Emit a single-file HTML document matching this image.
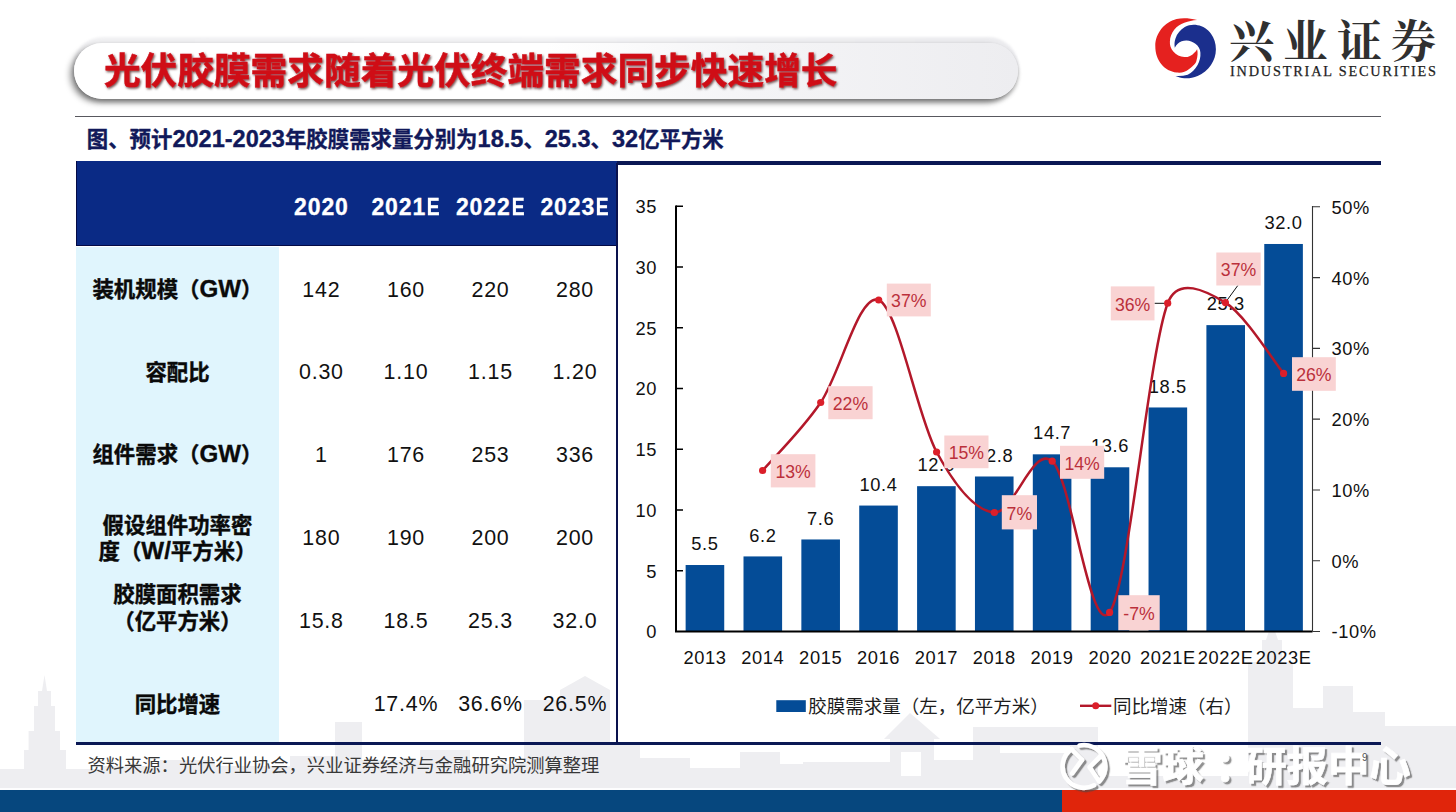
<!DOCTYPE html>
<html lang="zh"><head><meta charset="utf-8"><title>光伏胶膜需求随着光伏终端需求同步快速增长</title><style>
html,body{margin:0;padding:0;background:#fff}
body{width:1456px;height:812px;overflow:hidden;position:relative;font-family:"Liberation Sans",sans-serif}
.abs{position:absolute}
.pillrim{position:absolute;left:72px;top:37px;width:947px;height:62px;border-radius:31px;
 background:linear-gradient(90deg,#f1f1f3 0%,#f4f4f6 50%,#ececef 100%);filter:blur(.8px)}
.pill{position:absolute;left:74px;top:43px;width:944px;height:55.7px;border-radius:28px;
 background:linear-gradient(90deg,#fff 0%,#fff 50%,#f4f4f6 72%,#ededf0 100%);
 box-shadow:-4px 3.5px 6px rgba(0,0,0,.40),0 3px 4px rgba(0,0,0,.26)}
.th{position:absolute;width:100px;height:30px;line-height:30px;text-align:center;color:#fff;font-weight:bold;font-size:23px;letter-spacing:.9px;text-indent:.9px;-webkit-text-stroke:.3px #fff}
.e{display:inline-block;transform:scaleX(.84);transform-origin:0 50%;margin-right:-2.6px}
.td{position:absolute;width:100px;height:30px;line-height:30px;text-align:center;color:#111;font-size:21.4px;letter-spacing:.8px;text-indent:.8px}
svg text{font-family:"Liberation Sans","Noto Sans CJK SC",sans-serif}
svg text.serif{font-family:"Liberation Serif","Noto Serif CJK SC",serif}
</style></head><body>
<svg class="abs" style="left:0;top:0" width="1456" height="812" fill="#eeeef1"><rect x="0" y="769" width="24" height="20"/><rect x="66" y="769" width="34" height="20"/><rect x="100" y="766" width="60" height="23"/><rect x="160" y="760" width="55" height="29"/><rect x="215" y="766" width="75" height="23"/><rect x="290" y="756" width="45" height="33"/><rect x="335" y="722" width="27" height="67"/><rect x="362" y="760" width="58" height="29"/><rect x="420" y="750" width="50" height="39"/><rect x="470" y="764" width="54" height="25"/><rect x="524" y="700" width="36" height="89"/><rect x="560" y="690" width="50" height="99"/><rect x="610" y="744" width="30" height="45"/><rect x="640" y="758" width="50" height="31"/><rect x="690" y="768" width="50" height="21"/><rect x="740" y="752" width="40" height="37"/><rect x="780" y="764" width="23" height="25"/><rect x="803" y="762" width="87" height="27"/><rect x="890" y="739" width="44" height="50"/><rect x="934" y="760" width="39" height="29"/><rect x="973" y="727" width="125" height="62"/><rect x="1098" y="776" width="150" height="13"/><rect x="1248" y="662" width="45" height="127"/><rect x="1262" y="640" width="20" height="149"/><rect x="1293" y="708" width="30" height="81"/><rect x="1323" y="686" width="30" height="103"/><rect x="1353" y="712" width="32" height="77"/><rect x="1385" y="726" width="71" height="63"/><polygon points="24,789 24,750 28.6,750 28.6,731 34,731 34,706 38,706 38,691 42,691 44.5,675 47,691 51,691 51,706 55,706 55,731 60,731 60,750 66,750 66,789"/><polygon points="560,690 585,676 610,690"/><polygon points="884,739 910,713 940,739"/><polygon points="1266,640 1272,622 1278,640"/><g fill="#fff"><rect x="901" y="752" width="20" height="24"/><rect x="1000" y="746" width="70" height="7"/><rect x="1120" y="752" width="100" height="24"/></g></svg>
<div class="pillrim"></div><div class="pill"></div>
<div class="abs" style="left:75px;top:115.7px;width:1306px;height:1.2px;background:#58585e"></div>
<div class="abs" style="left:76px;top:161.2px;width:1305px;height:3.6px;background:#0a1854"></div>
<div class="abs" style="left:76px;top:741.5px;width:1305px;height:3px;background:#0a1854"></div>
<div class="abs" style="left:76px;top:161.2px;width:541px;height:84.6px;background:#0a2a85;box-sizing:border-box;border-left:1.2px solid #040a45;border-bottom:1.2px solid #040a45"></div>
<div class="abs" style="left:76px;top:247.2px;width:202.5px;height:494.5px;background:#e0f5fd"></div>
<div class="abs" style="left:616px;top:163px;width:2px;height:580px;background:#0a124e"></div>
<div class="th" style="left:271px;top:192px">2020</div>
<div class="th" style="left:355.6px;top:192px">2021<span class="e">E</span></div>
<div class="th" style="left:440.1px;top:192px">2022<span class="e">E</span></div>
<div class="th" style="left:524.6px;top:192px">2023<span class="e">E</span></div>
<div class="td" style="left:271px;top:275.2px">142</div>
<div class="td" style="left:355.6px;top:275.2px">160</div>
<div class="td" style="left:440.1px;top:275.2px">220</div>
<div class="td" style="left:524.6px;top:275.2px">280</div>
<div class="td" style="left:271px;top:356.8px">0.30</div>
<div class="td" style="left:355.6px;top:356.8px">1.10</div>
<div class="td" style="left:440.1px;top:356.8px">1.15</div>
<div class="td" style="left:524.6px;top:356.8px">1.20</div>
<div class="td" style="left:271px;top:439.9px">1</div>
<div class="td" style="left:355.6px;top:439.9px">176</div>
<div class="td" style="left:440.1px;top:439.9px">253</div>
<div class="td" style="left:524.6px;top:439.9px">336</div>
<div class="td" style="left:271px;top:522.9px">180</div>
<div class="td" style="left:355.6px;top:522.9px">190</div>
<div class="td" style="left:440.1px;top:522.9px">200</div>
<div class="td" style="left:524.6px;top:522.9px">200</div>
<div class="td" style="left:271px;top:606px">15.8</div>
<div class="td" style="left:355.6px;top:606px">18.5</div>
<div class="td" style="left:440.1px;top:606px">25.3</div>
<div class="td" style="left:524.6px;top:606px">32.0</div>
<div class="td" style="left:355.6px;top:688.9px">17.4%</div>
<div class="td" style="left:440.1px;top:688.9px">36.6%</div>
<div class="td" style="left:524.6px;top:688.9px">26.5%</div>
<div class="abs" style="left:0;top:788.2px;width:1456px;height:2px;background:#fdfdfe"></div>
<div class="abs" style="left:0;top:790px;width:1062px;height:22px;background:#06477e"></div>
<div class="abs" style="left:1062px;top:790px;width:394px;height:22px;background:#e0250b"></div>
<svg class="abs" style="left:0;top:0" width="1456" height="812" viewBox="0 0 1456 812"><defs><filter id="tsh" x="-2%" y="-20%" width="104%" height="150%"><feDropShadow dx="1.1" dy="1.4" stdDeviation="0.9" flood-color="#300" flood-opacity="0.7"/></filter><filter id="wsh" x="-5%" y="-20%" width="110%" height="150%"><feDropShadow dx="2.2" dy="2.2" stdDeviation="0.7" flood-color="#4a4a4a" flood-opacity="0.6"/></filter></defs>
<g filter="url(#tsh)"><g fill="#cf1019" font-size="36.68" font-weight="bold"><text x="103.9" y="84.16" font-size="36.68" stroke="#cf1019" stroke-width="0.5" textLength="733.6" lengthAdjust="spacing">光伏胶膜需求随着光伏终端需求同步快速增长</text></g></g>
<g transform="translate(1185.6 48.0)"><path d="M11.5,-28 C4,-30 -3,-30.2 -9,-29.1 C-21,-26 -30.3,-15 -30.3,-2 C-30.3,13 -21,23 -9,24.6 C-4,25.2 0,24 3.2,21.3 C8,17.5 10.5,15 10.9,12.4 C12.2,8 12.3,4.5 11.5,1.3 C10.8,2.8 9.8,3.9 8.7,4.7 C6,7.8 2.5,9.3 -1.3,9.1 C-5.5,9 -9.5,7 -12.3,3.6 C-14.8,0.8 -16,-2.8 -15.7,-6.4 C-15.6,-11 -14,-15.2 -11.2,-18.6 C-8.6,-21.6 -5.3,-23.9 -1.3,-25.3 C3,-26.9 7,-27.6 11.5,-28 Z" fill="#e5211f"/><path d="M-10.8,-0.3 C-11.3,-3.5 -11.2,-6.5 -10.2,-9.3 C-8.6,-14.2 -5.2,-18.2 -0.8,-20.9 C3,-23 7.4,-23.7 12,-22.8 C17.3,-22.3 22,-19 25.4,-14.2 C28.6,-9.7 30.3,-4.4 30.3,1.3 C30.3,7 28.6,12.3 25.4,16.9 C22,21.8 17.5,25.6 12,28 C7.7,29.8 3.2,30.5 -1.3,30.2 C-4.3,30 -7.3,29.2 -10.1,28 C-5.8,28.3 -1.7,27.9 2.1,26.8 C6.2,24.5 9.6,21.1 12,16.9 C14.1,13.2 15.1,9 14.8,4.7 C14.6,1.2 12.8,-2 9.8,-4.2 C7.2,-6.2 4.2,-7.3 1,-7.5 C-2.3,-7.6 -5.4,-6.5 -7.9,-4.2 C-9,-3.1 -10,-1.8 -10.8,-0.3 Z" fill="#1b2f8d"/></g>
<g fill="#303030" font-size="45" font-weight="bold"><text x="1229" y="57.5" class="serif" font-size="45" letter-spacing="9">兴业证券</text></g>
<text x="1230" y="76" class="serif" font-size="14.3" fill="#1e1e1e" stroke="#1e1e1e" stroke-width="0.25" textLength="206" lengthAdjust="spacing">INDUSTRIAL SECURITIES</text>
<g fill="#11195a" font-size="23.54" font-weight="bold"><text x="86.8" y="146.53" font-size="21.4" stroke="#11195a" stroke-width="0.35">图、预计</text><text x="172.4" y="146.53" stroke="#11195a" stroke-width="0.35">2021-2023</text><text x="284.97" y="146.53" font-size="21.4" stroke="#11195a" stroke-width="0.35">年胶膜需求量分别为</text><text x="477.57" y="146.53" stroke="#11195a" stroke-width="0.35">18.5</text><text x="523.39" y="146.53" font-size="21.4" stroke="#11195a" stroke-width="0.35">、</text><text x="544.79" y="146.53" stroke="#11195a" stroke-width="0.35">25.3</text><text x="590.6" y="146.53" font-size="21.4" stroke="#11195a" stroke-width="0.35">、</text><text x="612" y="146.53" stroke="#11195a" stroke-width="0.35">32</text><text x="638.19" y="146.53" font-size="21.4" stroke="#11195a" stroke-width="0.35">亿平方米</text></g>
<g fill="#0a0a0a" font-size="24.18" font-weight="bold"><text x="92.48" y="296.52" font-size="21.4" stroke="#0a0a0a" stroke-width="0.4">装机规模（</text><text x="199.48" y="296.52" stroke="#0a0a0a" stroke-width="0.35">GW</text><text x="241.12" y="296.52" font-size="21.4" stroke="#0a0a0a" stroke-width="0.4">）</text></g>
<g fill="#0a0a0a" font-size="24.18" font-weight="bold"><text x="145.4" y="380.32" font-size="21.4" stroke="#0a0a0a" stroke-width="0.4">容配比</text></g>
<g fill="#0a0a0a" font-size="24.18" font-weight="bold"><text x="92.48" y="461.92" font-size="21.4" stroke="#0a0a0a" stroke-width="0.4">组件需求（</text><text x="199.48" y="461.92" stroke="#0a0a0a" stroke-width="0.35">GW</text><text x="241.12" y="461.92" font-size="21.4" stroke="#0a0a0a" stroke-width="0.4">）</text></g>
<g fill="#0a0a0a" font-size="24.18" font-weight="bold"><text x="102.6" y="533.12" font-size="21.4" stroke="#0a0a0a" stroke-width="0.4">假设组件功率密</text></g>
<g fill="#0a0a0a" font-size="24.18" font-weight="bold"><text x="98.53" y="558.92" font-size="21.4" stroke="#0a0a0a" stroke-width="0.4">度（</text><text x="141.33" y="558.92" stroke="#0a0a0a" stroke-width="0.35">W/</text><text x="170.87" y="558.92" font-size="21.4" stroke="#0a0a0a" stroke-width="0.4">平方米）</text></g>
<g fill="#0a0a0a" font-size="24.18" font-weight="bold"><text x="113.3" y="602.23" font-size="21.4" stroke="#0a0a0a" stroke-width="0.4">胶膜面积需求</text></g>
<g fill="#0a0a0a" font-size="24.18" font-weight="bold"><text x="113.3" y="628.82" font-size="21.4" stroke="#0a0a0a" stroke-width="0.4">（亿平方米）</text></g>
<g fill="#0a0a0a" font-size="24.18" font-weight="bold"><text x="134.7" y="711.82" font-size="21.4" stroke="#0a0a0a" stroke-width="0.4">同比增速</text></g>
<g fill="#383838" font-size="18.3"><text x="87.5" y="771.76" font-size="18.3">资料来源：光伏行业协会，兴业证券经济与金融研究院测算整理</text></g>
<g font-size="18.3" fill="#111" letter-spacing="0.6"><g fill="#044c97"><rect x="685.63" y="565.02" width="38.6" height="66.48"/><rect x="743.5" y="556.42" width="38.6" height="75.08"/><rect x="801.36" y="539.46" width="38.6" height="92.04"/><rect x="859.22" y="505.56" width="38.6" height="125.94"/><rect x="917.09" y="486.18" width="38.6" height="145.32"/><rect x="974.95" y="476.49" width="38.6" height="155.01"/><rect x="1032.81" y="454.33" width="38.6" height="177.17"/><rect x="1090.68" y="467.29" width="38.6" height="164.21"/><rect x="1148.54" y="407.47" width="38.6" height="224.03"/><rect x="1206.4" y="325.12" width="38.6" height="306.38"/><rect x="1264.27" y="243.98" width="38.6" height="387.52"/></g><text x="704.93" y="550.12" text-anchor="middle">5.5</text><text x="762.8" y="541.52" text-anchor="middle">6.2</text><text x="820.66" y="524.56" text-anchor="middle">7.6</text><text x="878.52" y="490.66" text-anchor="middle">10.4</text><text x="936.39" y="471.28" text-anchor="middle">12.0</text><text x="994.25" y="461.59" text-anchor="middle">12.8</text><text x="1052.11" y="439.43" text-anchor="middle">14.7</text><text x="1109.98" y="452.39" text-anchor="middle">13.6</text><text x="1167.84" y="392.57" text-anchor="middle">18.5</text><text x="1225.7" y="310.22" text-anchor="middle">25.3</text><text x="1283.57" y="229.08" text-anchor="middle">32.0</text><path d="M676,205.6 V631.5 H1312.5" stroke="#000" stroke-width="2" fill="none"/><path d="M676,570.75 h7M676,510 h7M676,449.25 h7M676,388.5 h7M676,327.75 h7M676,267 h7M676,206.25 h7" stroke="#000" stroke-width="1.6" fill="none"/><path d="M1312.5,206 V631.5 M1312.5,631.5 h7.5M1312.5,560.72 h7.5M1312.5,489.94 h7.5M1312.5,419.16 h7.5M1312.5,348.38 h7.5M1312.5,277.6 h7.5M1312.5,206.82 h7.5" stroke="#333" stroke-width="1.1" fill="none"/><text x="657" y="638.4" text-anchor="end">0</text><text x="657" y="577.65" text-anchor="end">5</text><text x="657" y="516.9" text-anchor="end">10</text><text x="657" y="456.15" text-anchor="end">15</text><text x="657" y="395.4" text-anchor="end">20</text><text x="657" y="334.65" text-anchor="end">25</text><text x="657" y="273.9" text-anchor="end">30</text><text x="657" y="213.15" text-anchor="end">35</text><text x="1331.5" y="638.4">-10%</text><text x="1331.5" y="567.62">0%</text><text x="1331.5" y="496.84">10%</text><text x="1331.5" y="426.06">20%</text><text x="1331.5" y="355.28">30%</text><text x="1331.5" y="284.5">40%</text><text x="1331.5" y="213.72">50%</text><text x="704.93" y="663.7" text-anchor="middle">2013</text><text x="762.8" y="663.7" text-anchor="middle">2014</text><text x="820.66" y="663.7" text-anchor="middle">2015</text><text x="878.52" y="663.7" text-anchor="middle">2016</text><text x="936.39" y="663.7" text-anchor="middle">2017</text><text x="994.25" y="663.7" text-anchor="middle">2018</text><text x="1052.11" y="663.7" text-anchor="middle">2019</text><text x="1109.98" y="663.7" text-anchor="middle">2020</text><text x="1167.84" y="663.7" text-anchor="middle">2021E</text><text x="1225.7" y="663.7" text-anchor="middle">2022E</text><text x="1283.57" y="663.7" text-anchor="middle">2023E</text></g><path d="M1154.5,303.3 H1165 M1237.8,285.5 L1226.5,301" stroke="#111" stroke-width="1" fill="none"/><path d="M762.6,470.5 C772.28,459.17 801.35,430.92 820.7,402.5 C840.05,374.08 859.38,291.75 878.7,300 C898.02,308.25 917.32,416.58 936.6,452 C955.88,487.42 975.13,510.97 994.4,512.5 C1013.67,514.03 1033,444.55 1052.2,461.2 C1071.4,477.85 1090.35,638.73 1109.6,612.4 C1128.85,586.07 1148.4,354.83 1167.7,303.2 C1177.8,276.17 1206.08,290.9 1225.4,302.6 C1244.72,314.3 1273.9,361.6 1283.6,373.4" stroke="#b3182a" stroke-width="2.5" fill="none" stroke-linecap="round"/><g fill="#db1f2a"><circle cx="762.6" cy="470.5" r="3.6"/><circle cx="820.7" cy="402.5" r="3.6"/><circle cx="878.7" cy="300" r="3.6"/><circle cx="936.6" cy="452" r="3.6"/><circle cx="994.4" cy="512.5" r="3.6"/><circle cx="1052.2" cy="461.2" r="3.6"/><circle cx="1109.6" cy="612.4" r="3.6"/><circle cx="1167.7" cy="303.2" r="3.6"/><circle cx="1225.4" cy="302.6" r="3.6"/><circle cx="1283.6" cy="373.4" r="3.6"/></g><g><rect x="770.8" y="454.2" width="44.6" height="33.2" fill="#f9d3d3"/><rect x="828.3" y="386.2" width="44.3" height="33" fill="#f9d3d3"/><rect x="886.8" y="283.6" width="44" height="32.8" fill="#f9d3d3"/><rect x="944.3" y="435.5" width="44.2" height="32.7" fill="#f9d3d3"/><rect x="1001.8" y="495.2" width="35.2" height="34.2" fill="#f9d3d3"/><rect x="1060" y="445.8" width="44.2" height="33" fill="#f9d3d3"/><rect x="1118.3" y="595.2" width="41.4" height="35" fill="#f9d3d3"/><rect x="1110.8" y="286.4" width="43.7" height="34" fill="#f9d3d3"/><rect x="1216.3" y="252.5" width="44.4" height="33" fill="#f9d3d3"/><rect x="1292" y="357.2" width="43.8" height="33.6" fill="#f9d3d3"/></g><g font-size="17.7" fill="#bb303b" text-anchor="middle"><text x="793.1" y="478.1">13%</text><text x="850.45" y="410">22%</text><text x="908.8" y="307.3">37%</text><text x="966.4" y="459.15">15%</text><text x="1019.4" y="519.6">7%</text><text x="1082.1" y="469.6">14%</text><text x="1139" y="620">-7%</text><text x="1132.65" y="310.7">36%</text><text x="1238.5" y="276.3">37%</text><text x="1313.9" y="381.3">26%</text></g><rect x="776.3" y="700.2" width="29.5" height="11.8" fill="#044c97"/><path d="M1080,705.8 H1111.3" stroke="#b3182a" stroke-width="2.4"/><circle cx="1095.7" cy="705.8" r="3.5" fill="#db1f2a"/>
<g fill="#1c1c1c" font-size="18.5"><text x="808.2" y="712.84" font-size="18.5">胶膜需求量（左，亿平方米）</text></g>
<g fill="#1c1c1c" font-size="18.5"><text x="1113" y="712.84" font-size="18.5">同比增速（右）</text></g>
<g filter="url(#wsh)"><g fill="#fff" font-size="41.4" font-weight="bold"><text x="1121" y="780.73" font-size="41.4" stroke="#fff" stroke-width="0.6">雪球</text></g><g fill="#fff" font-size="41.4" font-weight="bold"><text x="1214.8" y="780.73" font-size="41.4" stroke="#fff" stroke-width="0.6">：</text></g><g fill="#fff" font-size="41.4" font-weight="bold"><text x="1245.2" y="780.73" font-size="41.4" stroke="#fff" stroke-width="0.6">研报中心</text></g><g fill="none" stroke="#fff" stroke-width="4.6" stroke-linecap="round" stroke-linejoin="round"><path d="M1072.2,773.4 L1082,759.8 M1071.42,749.09 A21.4,21.4 0 0 0 1094.05,785.3"/><path d="M1071.42,749.09 L1082,759.8"/><path d="M1079.55,745.47 A21.4,21.4 0 0 1 1099.13,781.53 L1089.6,767.2 L1099.8,757"/></g></g>
<text x="1362" y="761" font-size="10" fill="#555">9</text></svg>
</body></html>
